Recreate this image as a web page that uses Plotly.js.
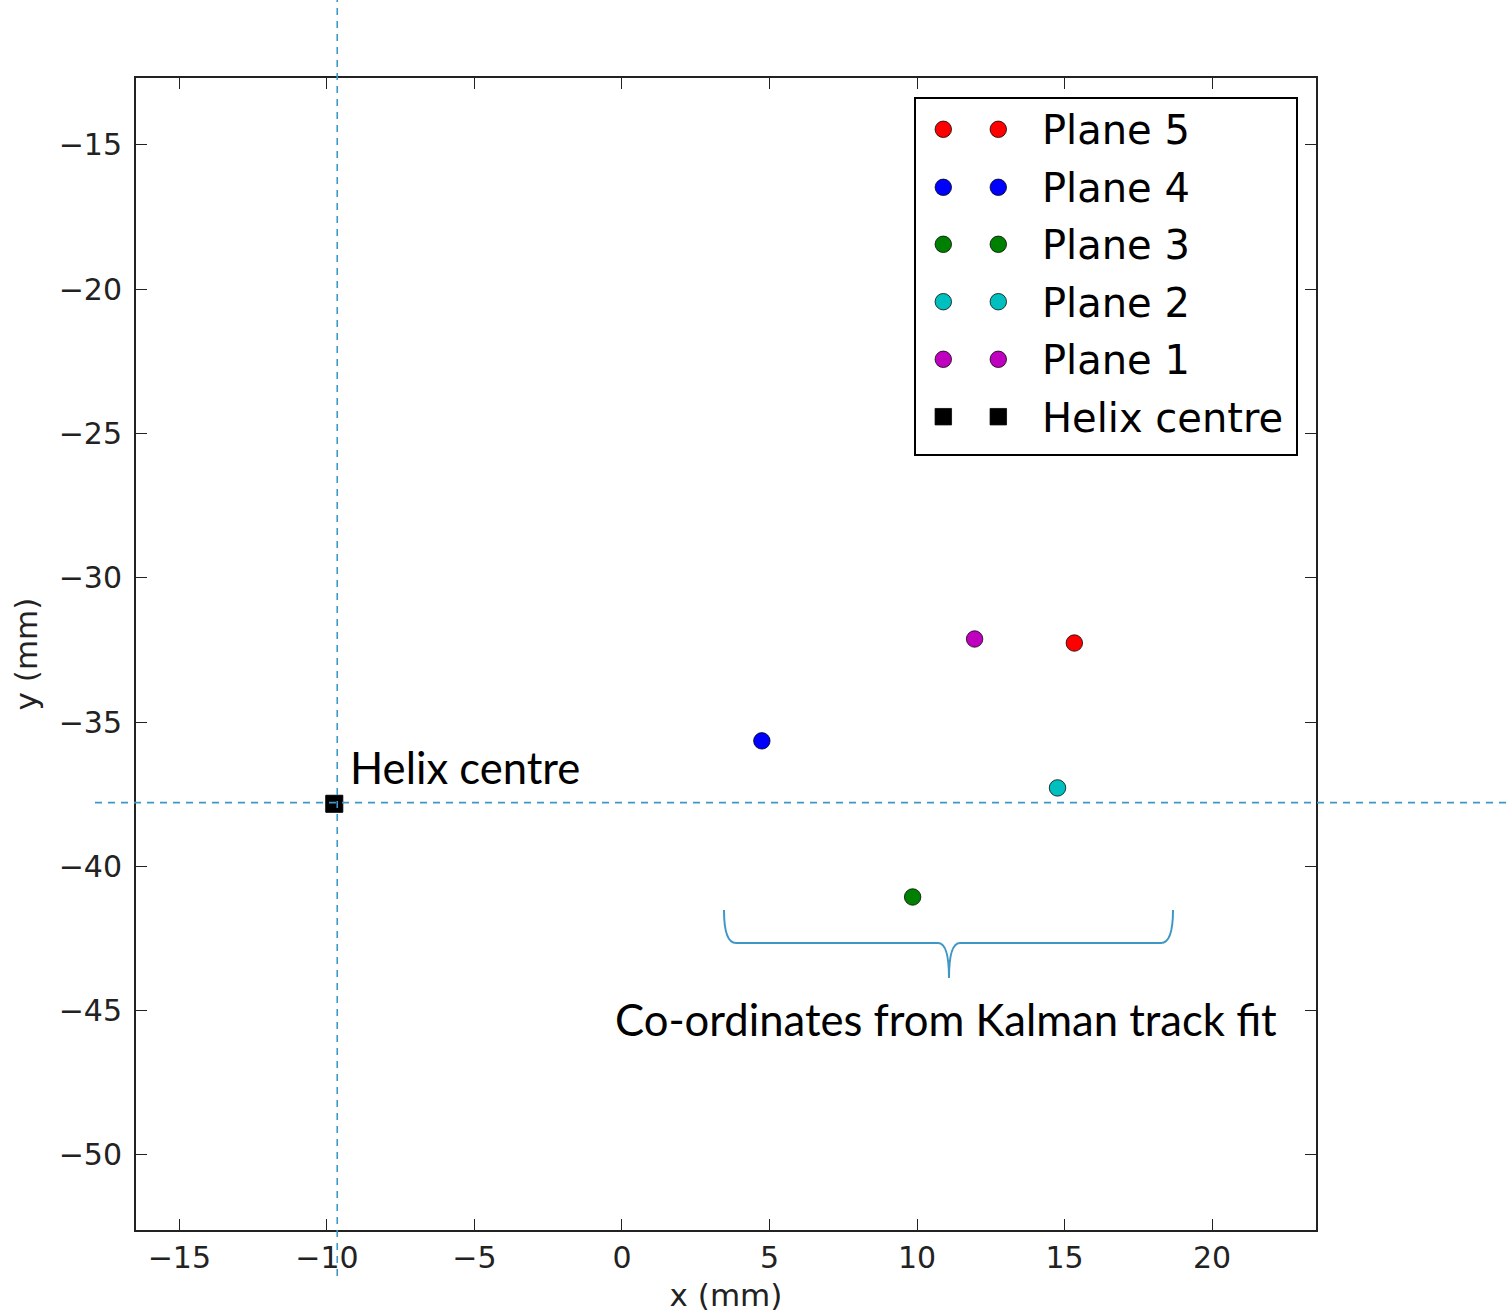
<!DOCTYPE html>
<html>
<head>
<meta charset="utf-8">
<script src="https://cdn.plot.ly/plotly-3.0.1.min.js"></script>
<style>html,body{margin:0;padding:0;background:#fff;}#chart{width:1506px;height:1316px;}</style>
</head>
<body>
<div id="chart"></div>
<script>
// ---- data ----
const planeNames = ['Plane 5', 'Plane 4', 'Plane 3', 'Plane 2', 'Plane 1'];
const planeColors = ['#ff0000', '#0000ff', '#008000', '#00bfbf', '#bf00bf'];
const planeX = [15.33, 4.74, 9.85, 14.76, 11.95];
const planeY = [-32.26, -35.65, -41.06, -37.28, -32.12];
const helixName = 'Helix centre';
const helixX = [-9.75];
const helixY = [-37.83];
const guideX = -9.65;   // vertical dashed guide
const guideY = -37.79;  // horizontal dashed guide
const xTicks = [-15, -10, -5, 0, 5, 10, 15, 20];
const yTicks = [-15, -20, -25, -30, -35, -40, -45, -50];
const xRange = [-16.47, 23.52];
const yRange = [-52.6, -12.68];
const labelHelix = 'Helix centre';
const labelKalman = 'Co-ordinates from Kalman track fit';

// ---- layout geometry (pixels) ----
const L = 136, T = 78, W = 1180, H = 1152;
const fx = px => (px - L) / W;
const fy = py => 1 - (py - T) / H;
const dx = v => (v - xRange[0]) / (xRange[1] - xRange[0]);
const dy = v => (v - yRange[0]) / (yRange[1] - yRange[0]);

const tickFont = {family: 'DejaVu Sans', size: 30, color: '#222'};
const annFont = {family: 'Lato', size: 43.6, color: '#000'};
const guideColor = '#3f97c6';

const traces = [];
planeNames.forEach((n, i) => {
  traces.push({
    type: 'scatter', mode: 'markers', name: n,
    x: [planeX[i]], y: [planeY[i]],
    marker: {size: 16.5, color: planeColors[i], line: {color: 'rgba(0,0,0,0.75)', width: 1}},
    showlegend: false, cliponaxis: false
  });
});
traces.push({
  type: 'scatter', mode: 'markers', name: helixName,
  x: helixX, y: helixY,
  marker: {size: 17, symbol: 'square', color: '#000', line: {color: '#000', width: 1}},
  showlegend: false, cliponaxis: false
});

// ---- custom legend (two markers per entry, matplotlib style) ----
const legNames = planeNames.concat([helixName]);
const legColors = planeColors.concat(['#000']);
const legSymbols = planeNames.map(() => 'circle').concat(['square']);
const rowY = [129.3, 187.3, 244.3, 301.7, 359.3, 416.7];
const markX = [943.3, 998.3];
const legX = [], legY = [], legC = [], legS = [];
legNames.forEach((n, i) => {
  markX.forEach(mx => {
    legX.push(fx(mx)); legY.push(fy(rowY[i]));
    legC.push(legColors[i]); legS.push(legSymbols[i]);
  });
});
traces.push({
  type: 'scatter', mode: 'markers', xaxis: 'x2', yaxis: 'y2',
  x: legX, y: legY, showlegend: false, hoverinfo: 'skip', cliponaxis: false,
  marker: {size: 16.5, color: legC, symbol: legS, line: {color: 'rgba(0,0,0,0.75)', width: 1}}
});

const annotations = legNames.map((n, i) => ({
  xref: 'paper', yref: 'paper', x: fx(1040), y: fy(rowY[i] + 1),
  xanchor: 'left', yanchor: 'middle', showarrow: false, text: n,
  font: {family: 'DejaVu Sans', size: 40, color: '#000'}
}));
annotations.push({
  xref: 'paper', yref: 'paper', x: fx(348), y: fy(767),
  xanchor: 'left', yanchor: 'middle', showarrow: false, text: labelHelix, font: annFont
});
annotations.push({
  xref: 'paper', yref: 'paper', x: fx(946), y: fy(1019),
  xanchor: 'center', yanchor: 'middle', showarrow: false, text: labelKalman, font: annFont
});

// brace path
const P = (a, b) => fx(a).toFixed(5) + ',' + fy(b).toFixed(5);
const bracePath = 'M' + P(724, 910) + ' Q' + P(724, 943) + ' ' + P(736, 943) +
  ' L' + P(938, 943) + ' Q' + P(949, 943) + ' ' + P(949, 978) +
  ' Q' + P(949, 943) + ' ' + P(960, 943) + ' L' + P(1161, 943) +
  ' Q' + P(1173, 943) + ' ' + P(1173, 910);

const shapes = [
  {type: 'rect', xref: 'paper', yref: 'paper', x0: fx(915), x1: fx(1297), y0: fy(455), y1: fy(98),
   line: {color: '#000', width: 2}, fillcolor: '#fff', layer: 'below'},
  {type: 'line', xref: 'paper', yref: 'paper', x0: dx(guideX), x1: dx(guideX), y0: fy(1276), y1: fy(0),
   line: {color: guideColor, width: 1.6, dash: '7px,6px'}},
  {type: 'line', xref: 'paper', yref: 'paper', x0: fx(95), x1: fx(1506), y0: dy(guideY), y1: dy(guideY),
   line: {color: guideColor, width: 1.6, dash: '7px,6px'}},
  {type: 'path', xref: 'paper', yref: 'paper', path: bracePath,
   line: {color: guideColor, width: 2}}
];

const layout = {
  width: 1506, height: 1316,
  margin: {l: L, r: 1506 - L - W, t: T, b: 1316 - T - H},
  paper_bgcolor: '#fff', plot_bgcolor: '#fff',
  showlegend: false,
  xaxis: {
    range: xRange, tickvals: xTicks, ticktext: xTicks.map(v => (v < 0 ? '\u2212' + Math.abs(v) : String(v))),
    ticks: 'inside', ticklen: 11, tickwidth: 1, tickcolor: '#222', mirror: 'ticks',
    showline: true, linewidth: 2, linecolor: '#222', showgrid: false, zeroline: false,
    tickfont: tickFont, ticklabelstandoff: 0,
    title: {text: 'x (mm)', font: {family: 'DejaVu Sans', size: 31, color: '#222'}, standoff: 10}
  },
  yaxis: {
    range: yRange, tickvals: yTicks, ticktext: yTicks.map(v => (v < 0 ? '\u2212' + Math.abs(v) : String(v))),
    ticks: 'inside', ticklen: 11, tickwidth: 1, tickcolor: '#222', mirror: 'ticks',
    showline: true, linewidth: 2, linecolor: '#222', showgrid: false, zeroline: false,
    tickfont: tickFont, ticklabelstandoff: 6,
    title: {text: 'y (mm)', font: {family: 'DejaVu Sans', size: 31, color: '#222'}, standoff: 12}
  },
  xaxis2: {overlaying: 'x', range: [0, 1], visible: false, fixedrange: true},
  yaxis2: {overlaying: 'y', range: [0, 1], visible: false, fixedrange: true},
  shapes: shapes,
  annotations: annotations
};

Plotly.newPlot('chart', traces, layout, {displayModeBar: false, staticPlot: true});
</script>
</body>
</html>
